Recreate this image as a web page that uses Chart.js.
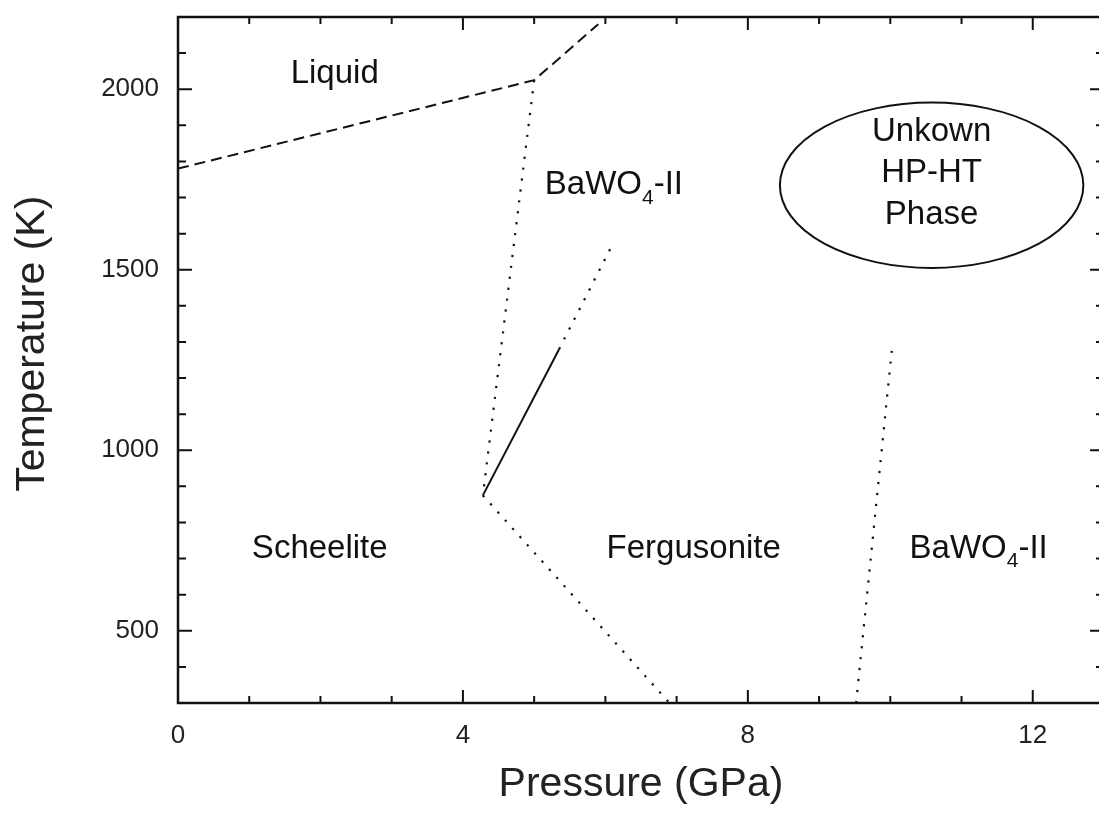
<!DOCTYPE html>
<html>
<head>
<meta charset="utf-8">
<script src="https://cdn.jsdelivr.net/npm/chart.js@4.4.1/dist/chart.umd.min.js"></script>
<style>
  html, body { margin: 0; padding: 0; background: #fff; overflow: hidden; }
  canvas { display: block; }
</style>
</head>
<body>
<canvas id="phase" width="1110" height="813"></canvas>
<script>
// axis ticks
const pressureTicks = [0, 4, 8, 12];
const tempTicks = [500, 1000, 1500, 2000];

// melting curve (dashed)
const meltP = [0, 5.0, 5.9];
const meltT = [1780, 2025, 2180];

// scheelite / BaWO4-II boundary (dotted)
const scheeliteIIP = [5.0, 4.28];
const scheeliteIIT = [2025, 875];

// scheelite -> fergusonite, measured part (solid)
const fergMeasP = [4.28, 5.35];
const fergMeasT = [875, 1280];

// same boundary, extrapolated (dotted)
const fergExtrapP = [5.35, 6.1];
const fergExtrapT = [1280, 1570];

// scheelite / fergusonite low temperature (dotted)
const fergLowP = [4.28, 6.9];
const fergLowT = [875, 300];

// fergusonite / BaWO4-II (dotted)
const fergIIP = [9.52, 10.02];
const fergIIT = [300, 1275];

// unknown HP-HT phase region
const unknownCenter = { p: 10.58, t: 1734 };
const unknownRadius = { p: 2.13, t: 229 };

const phaseLabels = [
  { parts: [['Liquid']], p: 2.2, t: 2042, align: 'center' },
  { parts: [['BaWO'], ['4', true], ['-II']], p: 5.15, t: 1735, align: 'left' },
  { parts: [['Unkown']], p: 10.58, t: 1882, align: 'center' },
  { parts: [['HP-HT']], p: 10.58, t: 1767, align: 'center' },
  { parts: [['Phase']], p: 10.58, t: 1652, align: 'center' },
  { parts: [['Scheelite']], p: 1.99, t: 728, align: 'center' },
  { parts: [['Fergusonite']], p: 7.24, t: 728, align: 'center' },
  { parts: [['BaWO'], ['4', true], ['-II']], p: 10.27, t: 728, align: 'left' }
];

const yTitle = 'Temperature (K)';

const ink = '#111';
const fontFamily = '"Liberation Sans", Arial, Helvetica, sans-serif';

function toXY(ps, ts) {
  return ps.map((p, i) => ({ x: p, y: ts[i] }));
}

function lineSet(ps, ts, dash, width) {
  return {
    data: toXY(ps, ts),
    showLine: true,
    borderColor: ink,
    borderWidth: width,
    borderDash: dash,
    pointRadius: 0,
    fill: false
  };
}

const DOTS = [2.2, 8.8];
const DASH = [11, 6];

function drawRich(ctx, x, y, parts, align) {
  const big = 'normal 33px ' + fontFamily;
  const small = 'normal 21px ' + fontFamily;
  let total = 0;
  parts.forEach(([s, sub]) => { ctx.font = sub ? small : big; total += ctx.measureText(s).width; });
  let cx = align === 'center' ? x - total / 2 : x;
  ctx.textAlign = 'left';
  ctx.textBaseline = 'middle';
  parts.forEach(([s, sub]) => {
    ctx.font = sub ? small : big;
    ctx.fillText(s, cx, sub ? y + 13 : y);
    cx += ctx.measureText(s).width;
  });
}

const decorations = {
  id: 'decorations',
  afterDatasetsDraw(chart) {
    const { ctx, chartArea: a, scales: { x, y } } = chart;
    ctx.save();
    ctx.fillStyle = ink;
    ctx.strokeStyle = ink;

    // ellipse around the unknown phase
    ctx.lineWidth = 2;
    ctx.beginPath();
    const ex = x.getPixelForValue(unknownCenter.p);
    const ey = y.getPixelForValue(unknownCenter.t);
    const rx = x.getPixelForValue(unknownCenter.p + unknownRadius.p) - ex;
    const ry = ey - y.getPixelForValue(unknownCenter.t + unknownRadius.t);
    ctx.ellipse(ex, ey, rx, ry, 0, 0, Math.PI * 2);
    ctx.stroke();

    phaseLabels.forEach(l => {
      drawRich(ctx, x.getPixelForValue(l.p), y.getPixelForValue(l.t), l.parts, l.align);
    });

    // frame
    ctx.lineWidth = 2.5;
    ctx.strokeRect(a.left, a.top, a.right - a.left, a.bottom - a.top);

    // inward ticks on all four sides
    ctx.lineWidth = 2;
    ctx.beginPath();
    for (let p = 0; p <= 13; p++) {
      const px = x.getPixelForValue(p);
      const len = p % 4 === 0 ? 13 : 7;
      ctx.moveTo(px, a.bottom); ctx.lineTo(px, a.bottom - len);
      ctx.moveTo(px, a.top); ctx.lineTo(px, a.top + len);
    }
    for (let t = 300; t <= 2200; t += 100) {
      const py = y.getPixelForValue(t);
      const len = t % 500 === 0 ? 14 : 8;
      ctx.moveTo(a.left, py); ctx.lineTo(a.left + len, py);
      ctx.moveTo(a.right, py); ctx.lineTo(a.right - len, py);
    }
    ctx.stroke();

    // vertical axis title, sits a little above the plot's middle
    ctx.fillStyle = '#222';
    ctx.font = 'normal 41px ' + fontFamily;
    ctx.textAlign = 'center';
    ctx.textBaseline = 'middle';
    ctx.translate(33, y.getPixelForValue(1295));
    ctx.rotate(-Math.PI / 2);
    ctx.fillText(yTitle, 0, 0);
    ctx.restore();
  }
};

new Chart(document.getElementById('phase'), {
  type: 'scatter',
  data: {
    datasets: [
      lineSet(meltP, meltT, DASH, 2),
      lineSet(scheeliteIIP, scheeliteIIT, DOTS, 2.2),
      lineSet(fergMeasP, fergMeasT, [], 2),
      lineSet(fergExtrapP, fergExtrapT, DOTS, 2.2),
      lineSet(fergLowP, fergLowT, DOTS, 2.2),
      lineSet(fergIIP, fergIIT, DOTS, 2.2)
    ]
  },
  options: {
    responsive: false,
    animation: false,
    layout: { padding: { top: 17, right: 6, left: 0, bottom: 0 } },
    plugins: { legend: { display: false }, tooltip: { enabled: false } },
    scales: {
      x: {
        type: 'linear',
        min: 0,
        max: 13,
        grid: { display: false },
        border: { display: false },
        afterBuildTicks: s => { s.ticks = pressureTicks.map(v => ({ value: v })); },
        afterFit: s => { s.height = 110; s.paddingLeft = 0; s.paddingRight = 0; },
        ticks: { color: '#222', padding: 9, font: { size: 26, family: fontFamily }, callback: v => String(v) },
        title: {
          display: true,
          text: 'Pressure (GPa)',
          color: '#222',
          padding: { top: 0, bottom: 4 },
          font: { size: 41, family: fontFamily }
        }
      },
      y: {
        type: 'linear',
        min: 300,
        max: 2200,
        grid: { display: false },
        border: { display: false },
        afterBuildTicks: s => { s.ticks = tempTicks.map(v => ({ value: v })); },
        afterFit: s => { s.width = 178; s.paddingTop = 0; s.paddingBottom = 0; },
        ticks: { color: '#222', padding: 11, font: { size: 26, family: fontFamily }, callback: v => String(v) }
      }
    }
  },
  plugins: [decorations]
});
</script>
</body>
</html>
